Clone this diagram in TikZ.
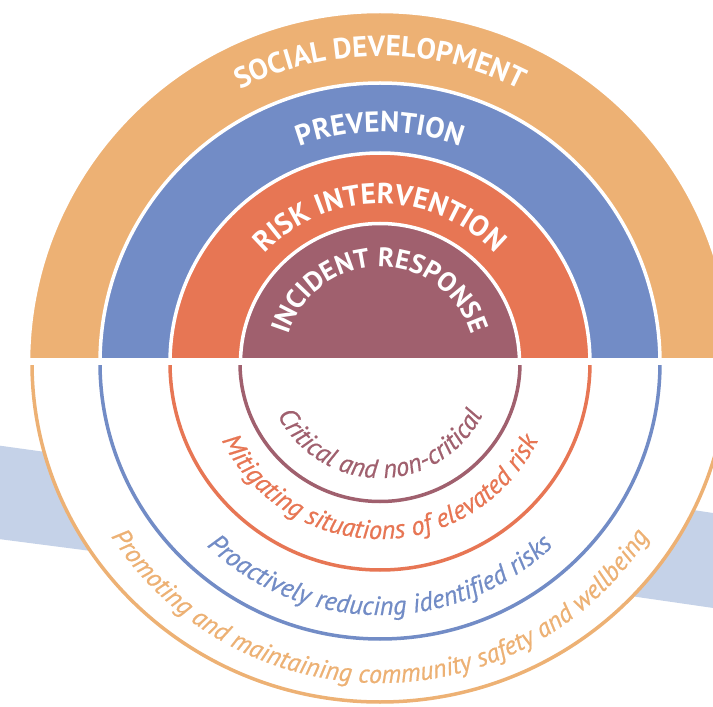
\documentclass[tikz,border=0pt]{standalone}
\usepackage{fontspec}
\setmainfont{PT Sans}
\newfontfamily\notefamily{PT Sans}[FakeBold=0.6]
\usetikzlibrary{decorations.text}
\definecolor{socialorange}{HTML}{EDB174}
\definecolor{preventblue}{HTML}{728CC6}
\definecolor{riskred}{HTML}{E77654}
\definecolor{incidentmauve}{HTML}{A0606E}
\definecolor{swooshblue}{HTML}{C5D2E8}
\tikzstyle{ring}=[draw=white,line width=3.5pt]
\tikzstyle{ringline}=[line width=3.5pt]
\tikzstyle{arclabel}=[decorate,decoration={text along path,text align=center}]
\newcommand\bandfont{\bfseries\fontsize{29}{29}\selectfont}
\newcommand\corefont{\bfseries\fontsize{27}{27}\selectfont}
\newcommand\notefont{\notefamily\itshape\fontsize{26.5}{26.5}\selectfont}
\newcommand\outerfont{\notefamily\itshape\fontsize{26}{26}\selectfont}

\begin{document}
\begin{tikzpicture}[x=1pt,y=1pt]

  \useasboundingbox (-380,-344) rectangle (333,363);
  \clip (-380,-344) rectangle (333,363);

  % swoosh behind the lower half
  \fill[swooshblue] (-390,-81.3) -- (-200,-107.7) .. controls (0,-135) and (0,-100) .. (180,-127)
     -- (345,-151.8) -- (345,-246.7) -- (180,-222.8) .. controls (0,-196) and (0,-230) .. (-200,-199.5)
     -- (-390,-174.9) -- cycle;

  % upper half: filled bands
  \begin{scope}
    \clip (-400,5.7) rectangle (400,400);
    \foreach \r/\col in {351.5/socialorange, 280/preventblue, 210/riskred, 139.5/incidentmauve}
       \filldraw[ring,fill=\col] (0,0) circle (\r);
  \end{scope}

  % lower half: outlines only
  \begin{scope}
    \clip (-400,-3) rectangle (400,-400);
    \fill[white] (0,0) ellipse [x radius=348, y radius=339];
    \foreach \rx/\ry/\col in {348/339/socialorange, 280/276/preventblue, 210/207/riskred, 140/138.5/incidentmauve}
       \draw[ringline,\col] (0,0) ellipse [x radius=\rx, y radius=\ry];
  \end{scope}

  % band titles
  \foreach \r/\f/\ringlabel in {307/bandfont/SOCIAL DEVELOPMENT, 231/bandfont/PREVENTION,
                                159/bandfont/RISK INTERVENTION, 96/corefont/INCIDENT RESPONSE}
     \path[arclabel,decoration={text color=white,text/.expanded={|\expandafter\noexpand\csname\f\endcsname|\ringlabel}}]
        (-\r,0) arc[start angle=180,end angle=0,radius=\r];

  % descriptions under each band
  \foreach \r/\col/\f/\ringlabel in {115/incidentmauve/notefont/Critical and non-critical,
                                     176/riskred/notefont/Mitigating situations of elevated risk,
                                     252/preventblue/notefont/Proactively reducing identified risks,
                                     320/socialorange/outerfont/Promoting and maintaining community safety and wellbeing}
     \path[arclabel,decoration={text color=\col,text/.expanded={|\expandafter\noexpand\csname\f\endcsname|\ringlabel}}]
        (-\r,0) arc[start angle=180,end angle=360,radius=\r];

\end{tikzpicture}
\end{document}
